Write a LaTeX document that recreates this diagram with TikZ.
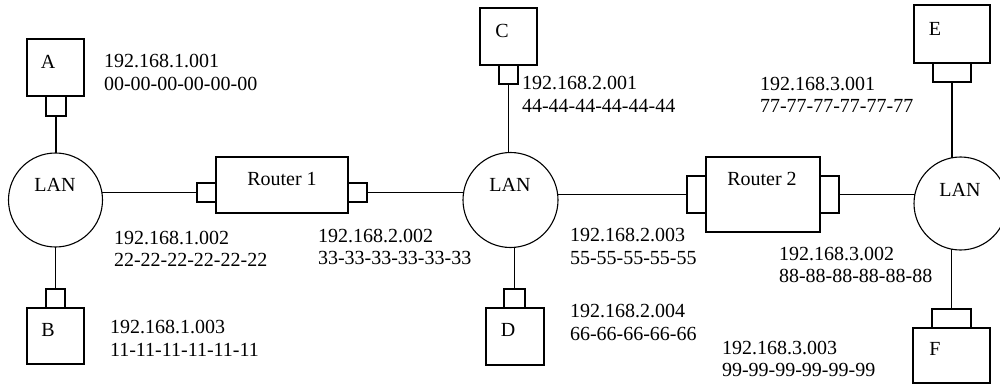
\documentclass[tikz,border=0pt]{standalone}
\usepackage{fontspec}
\setmainfont{Liberation Serif}
\begin{document}
\begin{tikzpicture}[x=1pt,y=-1pt,
  every node/.style={inner sep=0pt, outer sep=0pt, font=\fontsize{20}{22.5}\selectfont},
  box/.style={draw, line width=1.1pt, rectangle},
  lan/.style={draw, line width=1.1pt, circle},
  lbl/.style={},
  addr/.style={anchor=west, align=left},
  conn/.style={line width=1.1pt}]
\useasboundingbox (0,0) rectangle (1000,385);

% LAN circles
\node[lan, minimum size=94pt] (LAN1) at (55.5,200) {};
\node[lan, minimum size=95pt] (LAN2) at (510.5,200) {};
\node[lan, minimum size=93pt] (LAN3) at (960.5,203.5) {};
\node[lbl] (LAN1t) at (55,185) {LAN};
\node[lbl] (LAN2t) at (510,185) {LAN};
\node[lbl] (LAN3t) at (960,190) {LAN};

% Hosts
\node[box, minimum width=57pt, minimum height=57pt] (Abox) at (55.5,67.5) {};
\node[box, minimum width=20pt, minimum height=20pt] (Aport) at (56,106) {};
\node[lbl] (At) at (48,62) {A};

\node[box, minimum width=57pt, minimum height=56pt] (Bbox) at (55.5,336) {};
\node[box, minimum width=19pt, minimum height=19pt] (Bport) at (55.5,298.5) {};
\node[lbl] (Bt) at (48,330) {B};

\node[box, minimum width=57pt, minimum height=57pt] (Cbox) at (508.5,36.5) {};
\node[box, minimum width=19pt, minimum height=19pt] (Cport) at (508.5,74.5) {};
\node[lbl] (Ct) at (502,31) {C};

\node[box, minimum width=58pt, minimum height=57pt] (Dbox) at (515,336.5) {};
\node[box, minimum width=21pt, minimum height=19pt] (Dport) at (514.5,298.5) {};
\node[lbl] (Dt) at (508,330) {D};

\node[box, minimum width=76pt, minimum height=58pt] (Ebox) at (952,34) {};
\node[box, minimum width=38pt, minimum height=19pt] (Eport) at (952,72.5) {};
\node[lbl] (Et) at (935,29) {E};

\node[box, minimum width=77pt, minimum height=55pt] (Fbox) at (951.5,355.5) {};
\node[box, minimum width=39pt, minimum height=19pt] (Fport) at (951.5,318.5) {};
\node[lbl] (Ft) at (935,349) {F};

% Routers
\node[box, minimum width=132pt, minimum height=56pt] (R1) at (282,185) {};
\node[box, minimum width=19pt, minimum height=19pt] (R1L) at (206.5,192.5) {};
\node[box, minimum width=19pt, minimum height=19pt] (R1R) at (357.5,192.5) {};
\node[lbl] (R1t) at (282,179) {Router 1};

\node[box, minimum width=114pt, minimum height=75pt] (R2) at (763,194.5) {};
\node[box, minimum width=19pt, minimum height=37pt] (R2L) at (696.5,194.5) {};
\node[box, minimum width=19pt, minimum height=37pt] (R2R) at (829.5,194.5) {};
\node[lbl] (R2t) at (762,179) {Router 2};

% Connectors
\draw[conn] (Aport.south) -- (Aport.south |- LAN1.north);
\draw[conn] (Bport.north) -- (Bport.north |- LAN1.south);
\draw[conn] (R1L.west) -- (R1L.west -| LAN1.10);
\draw[conn] (R1R.east) -- (R1R.east -| LAN2.170);
\draw[conn] (Cport.south) -- (Cport.south |- LAN2.93);
\draw[conn] (Dport.north) -- (Dport.north |- LAN2.273);
\draw[conn] (R2L.west) -- (R2L.west -| LAN2.6);
\draw[conn] (R2R.east) -- (R2R.east -| LAN3.170);
\draw[conn] (Eport.south) -- (Eport.south |- LAN3.100);
\draw[conn] (Fport.north) -- (Fport.north |- LAN3.260);

% Addresses
\node[addr] (a1) at (104,72.5) {192.168.1.001\\00-00-00-00-00-00};
\node[addr] (a2) at (114,249) {192.168.1.002\\22-22-22-22-22-22};
\node[addr] (a3) at (110,338.5) {192.168.1.003\\11-11-11-11-11-11};
\node[addr] (a4) at (318,247) {192.168.2.002\\33-33-33-33-33-33};
\node[addr] (a5) at (522,94.5) {192.168.2.001\\44-44-44-44-44-44};
\node[addr] (a6) at (570,246.5) {192.168.2.003\\55-55-55-55-55};
\node[addr] (a7) at (570,322.5) {192.168.2.004\\66-66-66-66-66};
\node[addr] (a8) at (760,95) {192.168.3.001\\77-77-77-77-77-77};
\node[addr] (a9) at (779,265) {192.168.3.002\\88-88-88-88-88-88};
\node[addr] (a10) at (722,359) {192.168.3.003\\99-99-99-99-99-99};
\end{tikzpicture}
\end{document}
